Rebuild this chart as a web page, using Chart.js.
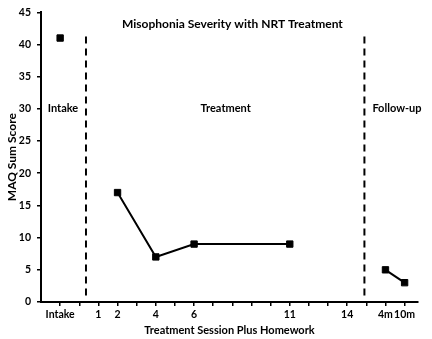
<!DOCTYPE html>
<html>
<head>
<meta charset="utf-8">
<script src="https://cdn.jsdelivr.net/npm/chart.js@4"></script>
<style>
  html, body { margin: 0; padding: 0; background: #fff; }
  #wrap { width: 432px; height: 339px; }
</style>
</head>
<body>
<div id="wrap"><canvas id="chart" width="432" height="339"></canvas></div>
<script>
// session positions on the x axis (Intake = -1, follow-ups 4m/10m = 16/17)
const intakeX = [-1];
const intakeY = [41];
const treatmentX = [2, 4, 6, 11];
const treatmentY = [17, 7, 9, 9];
const followUpX = [16, 17];
const followUpY = [5, 3];

const tickValues = [-1, 0, 1, 2, 3, 4, 5, 6, 7, 8, 9, 10, 11, 12, 13, 14, 15, 16, 17];
const tickLabelValues = [-1, 1, 2, 4, 6, 11, 14, 16, 17];
const tickLabelText = ['Intake', '1', '2', '4', '6', '11', '14', '4m', '10m'];

// phase separators (x) and their vertical extent (y)
const dividerX = [0.35, 14.9];
const dividerY = [1, 42];

const phaseLabels = [
  { text: 'Intake', x: -0.85, y: 30 },
  { text: 'Treatment', x: 7.65, y: 30 },
  { text: 'Follow-up', x: 16.6, y: 30 }
];
const titleText = 'Misophonia Severity with NRT Treatment';
const xTitle = 'Treatment Session Plus Homework';
const yTitle = 'MAQ Sum Score';

const FONT = 'Lato, "Open Sans", sans-serif';

function pts(xs, ys) { return xs.map((x, i) => ({ x: x, y: ys[i] })); }

const textPlugin = {
  id: 'phaseText',
  afterDatasetsDraw(chart) {
    const { ctx, scales: { x, y } } = chart;
    ctx.save();
    ctx.fillStyle = '#000';
    ctx.textAlign = 'center';
    ctx.textBaseline = 'middle';
    ctx.font = 'bold 11px ' + FONT;
    phaseLabels.forEach(l => ctx.fillText(l.text, x.getPixelForValue(l.x), y.getPixelForValue(l.y)));
    ctx.font = 'bold 12px ' + FONT;
    ctx.fillText(titleText, x.getPixelForValue(8), y.getPixelForValue(43.2));
    ctx.restore();
  }
};

const markerStyle = {
  borderColor: '#000', backgroundColor: '#000', borderWidth: 2,
  pointStyle: 'rect', pointRadius: 4.5, pointBorderWidth: 1, showLine: true
};

new Chart(document.getElementById('chart'), {
  type: 'scatter',
  data: {
    datasets: [
      Object.assign({ data: pts(intakeX, intakeY) }, markerStyle),
      Object.assign({ data: pts(treatmentX, treatmentY) }, markerStyle),
      Object.assign({ data: pts(followUpX, followUpY) }, markerStyle),
      { data: pts([dividerX[0], dividerX[0]], dividerY), showLine: true, borderColor: '#000', borderWidth: 2, borderDash: [7, 5], pointRadius: 0 },
      { data: pts([dividerX[1], dividerX[1]], dividerY), showLine: true, borderColor: '#000', borderWidth: 2, borderDash: [7, 5], pointRadius: 0 }
    ]
  },
  options: {
    responsive: false,
    animation: false,
    layout: { padding: { top: 10, right: 14, left: 0, bottom: 0 } },
    plugins: { legend: { display: false }, tooltip: { enabled: false } },
    scales: {
      x: {
        type: 'linear', min: -2, max: 17.7,
        afterBuildTicks: s => { s.ticks = tickValues.map(v => ({ value: v })); },
        afterFit: s => { s.height = 37; },
        border: { color: '#000', width: 2 },
        grid: { drawOnChartArea: false, drawTicks: true, tickLength: 4, color: '#000', lineWidth: 1.5 },
        ticks: {
          autoSkip: false, maxRotation: 0, padding: 2, color: '#000',
          font: { family: FONT, size: 10.5, weight: 'bold' },
          callback: v => { const i = tickLabelValues.indexOf(v); return i >= 0 ? tickLabelText[i] : ''; }
        },
        title: { display: true, text: xTitle, color: '#000', padding: { top: 0, bottom: 2 }, font: { family: FONT, size: 11, weight: 'bold' } }
      },
      y: {
        min: 0, max: 45,
        afterFit: s => { s.width = 41; },
        border: { color: '#000', width: 2 },
        grid: { drawOnChartArea: false, drawTicks: true, tickLength: 4, color: '#000', lineWidth: 1.5 },
        ticks: { stepSize: 5, padding: 6, color: '#000', font: { family: FONT, size: 10.5, weight: 'bold' } },
        title: { display: true, text: yTitle, color: '#000', padding: { top: 5, bottom: 0 }, font: { family: FONT, size: 12, weight: 'bold' } }
      }
    }
  },
  plugins: [textPlugin]
});
</script>
</body>
</html>
